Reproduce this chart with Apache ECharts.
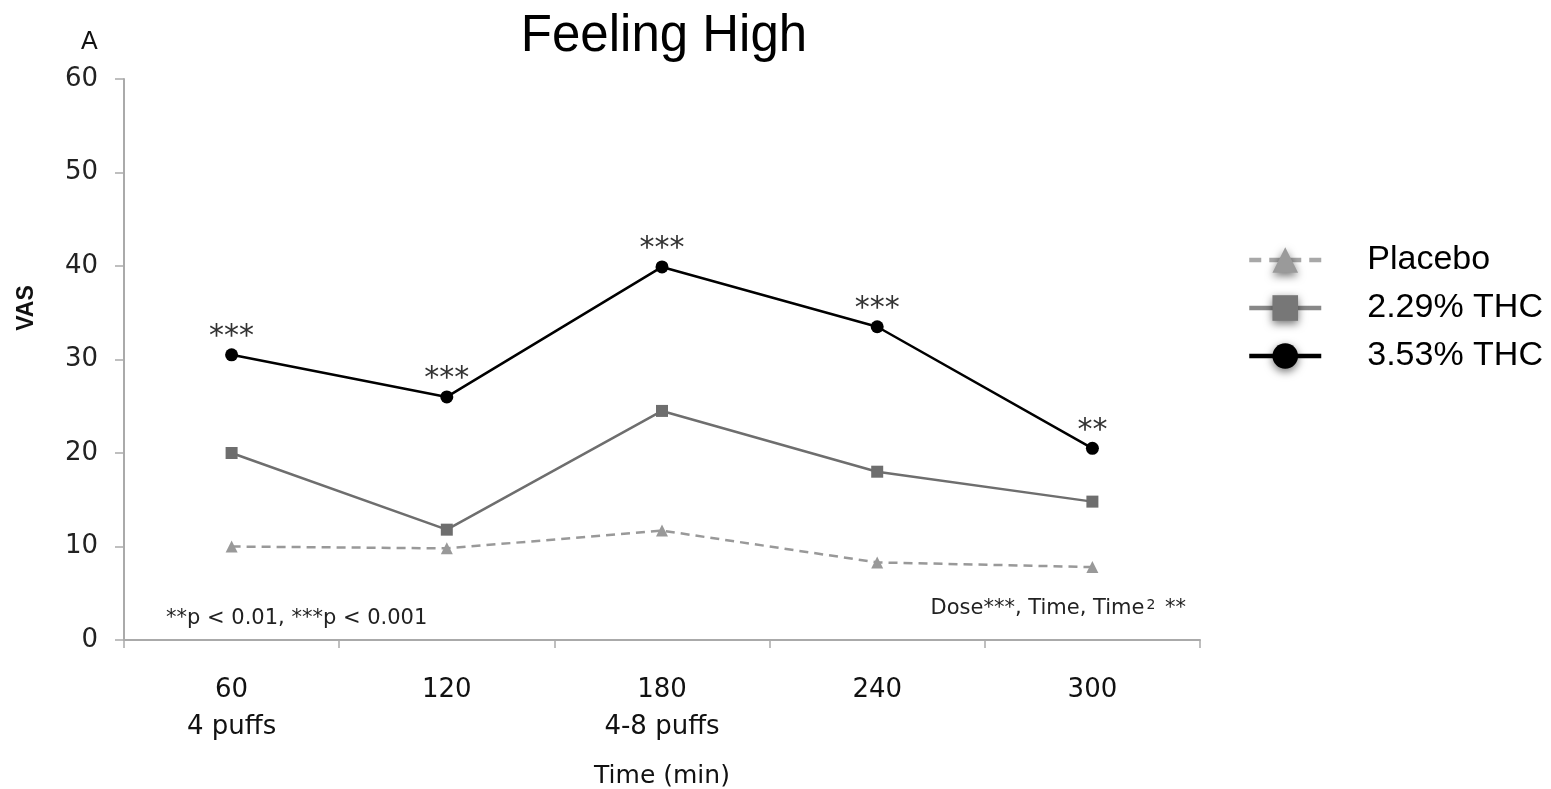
<!DOCTYPE html>
<html>
<head>
<meta charset="utf-8">
<script src="https://cdn.jsdelivr.net/npm/echarts@6/dist/echarts.min.js"></script>
<style>
html,body{margin:0;padding:0;background:#fff;}
#chart{width:1551px;height:789px;}
</style>
</head>
<body>
<div id="chart"></div>
<script>
const categories = ['60\n4 puffs', '120', '180\n4-8 puffs', '240', '300'];
const placebo = [10.0, 9.8, 11.7, 8.3, 7.8];
const thc229 = [20.0, 11.8, 24.5, 18.0, 14.8];
const thc353 = [30.5, 26.0, 39.9, 33.5, 20.5];
const significance = ['***', '***', '***', '***', '**'];
const yTicks = { min: 0, max: 60, interval: 10 };

const chart = echarts.init(document.getElementById('chart'));
const font = 'Liberation Sans, Arial, sans-serif';
const font2 = 'DejaVu Sans, sans-serif';
const shadow = { shadowBlur: 8, shadowColor: 'rgba(0,0,0,0.55)', shadowOffsetY: 3 };
chart.setOption({
  backgroundColor: '#fff',
  animation: false,
  title: [
    { text: 'Feeling High', left: 659, top: 6, textAlign: 'center',
      textStyle: { fontFamily: font, fontSize: 51, fontWeight: 'normal', color: '#000' } },
    { text: 'A', left: 76, top: 25,
      textStyle: { fontFamily: font, fontSize: 25, fontWeight: 'normal', color: '#111' } }
  ],
  grid: { left: 124, right: 351, top: 79, bottom: 149, outerBoundsMode: 'none', containLabel: false },
  legend: {
    orient: 'vertical', left: 1242, top: 238,
    itemWidth: 72, itemHeight: 32, itemGap: 14,
    textStyle: { fontFamily: font, fontSize: 34, color: '#000', padding: [0, 0, 0, 41] },
    data: [
      { name: 'Placebo', itemStyle: Object.assign({ color: '#9a9a9a' }, shadow),
        lineStyle: { width: 4.5, color: '#a8a8a8', type: [12, 8] } },
      { name: '2.29% THC', itemStyle: Object.assign({ color: '#777' }, shadow),
        lineStyle: { width: 4.5, color: '#888' } },
      { name: '3.53% THC', itemStyle: Object.assign({ color: '#000' }, shadow),
        lineStyle: { width: 4.5, color: '#000' } }
    ]
  },
  xAxis: {
    type: 'category', data: categories, boundaryGap: true,
    name: 'Time (min)', nameLocation: 'middle', nameGap: 124,
    nameTextStyle: { fontFamily: font2, fontSize: 25, color: '#111' },
    axisLine: { lineStyle: { color: '#aaa', width: 2 } },
    axisTick: { show: true, length: 8, alignWithLabel: false, lineStyle: { color: '#aaa', width: 1.5 } },
    axisLabel: { fontFamily: font2, fontSize: 26, color: '#111', margin: 32, lineHeight: 37 }
  },
  yAxis: {
    type: 'value', min: yTicks.min, max: yTicks.max, interval: yTicks.interval,
    axisLine: { show: true, lineStyle: { color: '#aaa', width: 2 } },
    axisTick: { show: true, length: 9, lineStyle: { color: '#aaa', width: 1.5 } },
    splitLine: { show: false },
    axisLabel: { fontFamily: font2, fontSize: 26, color: '#222', margin: 26 }
  },
  graphic: [
    { type: 'text', x: 27, y: 308, rotation: Math.PI / 2,
      style: { text: 'VAS', fontFamily: font, fontSize: 23, fontWeight: 'bold', fill: '#111',
        align: 'center', verticalAlign: 'middle' } },
    { type: 'text', left: 166, top: 608,
      style: { text: '**p < 0.01, ***p < 0.001', fontFamily: font2, fontSize: 21, fill: '#222' } },
    { type: 'text', right: 365, top: 598,
      style: { text: '{a|Dose***, Time, Time}{s|2}{a| **}', fontFamily: font2,
        rich: { a: { fontSize: 21, fill: '#222', fontFamily: font2, padding: [6,0,0,0] },
                s: { fontSize: 14, fill: '#222', fontFamily: font2, padding: [0,3,0,2] } } } }
  ],
  series: [
    { name: 'Placebo', type: 'line', data: placebo,
      symbol: 'triangle', symbolSize: 12,
      lineStyle: { color: '#999', width: 2.5, type: [9, 6] },
      itemStyle: { color: '#999' } },
    { name: '2.29% THC', type: 'line', data: thc229,
      symbol: 'rect', symbolSize: 12,
      lineStyle: { color: '#6e6e6e', width: 2.5 },
      itemStyle: { color: '#6e6e6e' } },
    { name: '3.53% THC', type: 'line', data: thc353,
      symbol: 'circle', symbolSize: 13,
      lineStyle: { color: '#000', width: 2.5 },
      itemStyle: { color: '#000' },
      label: { show: true, position: 'top', distance: -4,
        formatter: p => significance[p.dataIndex],
        fontFamily: font2, fontSize: 30, color: '#333' } }
  ]
});
</script>
</body>
</html>
